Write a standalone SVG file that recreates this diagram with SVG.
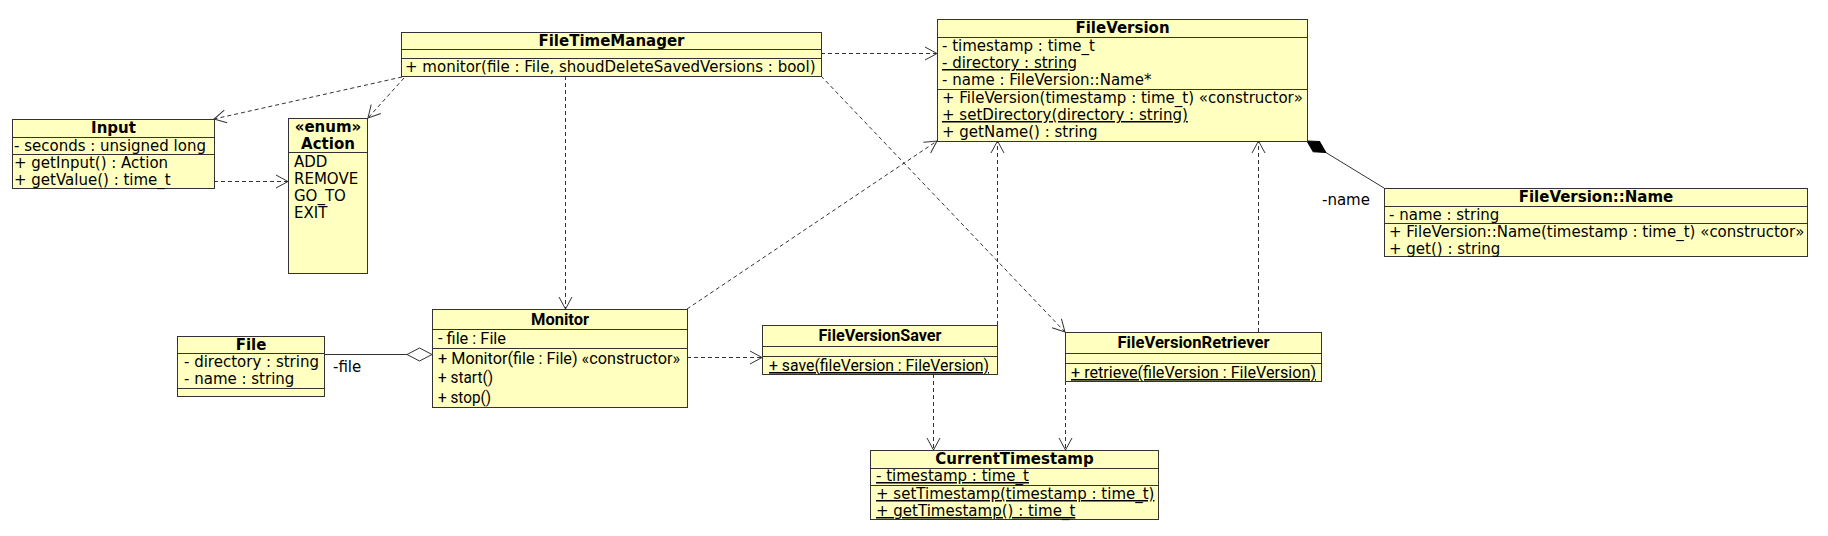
<svg xmlns="http://www.w3.org/2000/svg" width="1828" height="536" viewBox="0 0 1828 536">
<style>
.box{fill:#ffffc0;stroke:#333;stroke-width:1}
.sep{stroke:#333;stroke-width:1;fill:none}
.t{font-family:"DejaVu Sans",sans-serif;font-size:15px;fill:#000}
.n{font-family:Roboto,"Noto Sans",sans-serif;font-size:16px;fill:#000}
.b{font-weight:bold;text-anchor:middle}
.u{text-decoration:underline}
.dep{fill:none;stroke:#333;stroke-width:1;stroke-dasharray:4 3;marker-end:url(#open)}
.sol{fill:none;stroke:#333;stroke-width:1}
</style>
<defs>
<marker id="open" markerUnits="userSpaceOnUse" markerWidth="30" markerHeight="30" refX="0" refY="0" viewBox="-15 -15 30 30" orient="auto" overflow="visible">
<path d="M-12,-6.5 L0,0 L-12,6.5" fill="none" stroke="#333" stroke-width="1" stroke-dasharray="none"/>
</marker>
<marker id="comp" markerUnits="userSpaceOnUse" markerWidth="40" markerHeight="40" refX="0" refY="0" viewBox="-20 -20 40 40" orient="auto" overflow="visible">
<path d="M0,0 L11,-6 L22,0 L11,6 Z" fill="#000" stroke="#000" stroke-width="1"/>
</marker>
<marker id="aggr" markerUnits="userSpaceOnUse" markerWidth="40" markerHeight="40" refX="0" refY="0" viewBox="-30 -20 40 40" orient="auto" overflow="visible">
<path d="M0,0 L-12.5,-6.5 L-25,0 L-12.5,6.5 Z" fill="#fff" stroke="#333" stroke-width="1"/>
</marker>
</defs>
<rect width="1828" height="536" fill="#fff"/>

<g id="connectors">
<path class="dep" d="M402,77 L214,119"/>
<path class="dep" d="M404,78 L368,118"/>
<path class="dep" d="M214,181.5 L288,181.5"/>
<path class="dep" d="M821,53.5 L937,53.5"/>
<path class="dep" d="M565.5,76 L565.5,309"/>
<path class="dep" d="M821,76 L1065,332"/>
<path class="dep" d="M687,309 L937,141"/>
<path class="dep" d="M687,357.5 L762,357.5"/>
<path class="dep" d="M997.5,325 L997.5,141"/>
<path class="dep" d="M1258.5,332 L1258.5,141"/>
<path class="dep" d="M933.5,374 L933.5,450"/>
<path class="dep" d="M1065.5,381 L1065.5,450"/>
<path class="sol" d="M1307,141 L1384,188" marker-start="url(#comp)"/>
<path class="sol" d="M324,354.5 L432,354.5" marker-end="url(#aggr)"/>
<text class="t" x="1322" y="205">-name</text>
<text class="t" x="333" y="372">-file</text>
</g>

<g id="Input">
<rect class="box" x="12.5" y="119.5" width="202" height="69"/>
<path class="sep" d="M12.5,137.5 H214.5 M12.5,154.5 H214.5"/>
<text class="t b" x="113.5" y="133">Input</text>
<text class="t" x="14" y="151">- seconds : unsigned long</text>
<text class="t" x="14" y="168">+ getInput() : Action</text>
<text class="t" x="14" y="185">+ getValue() : time_t</text>
</g>

<g id="Action">
<rect class="box" x="288.5" y="118.5" width="79" height="155"/>
<path class="sep" d="M288.5,152.5 H367.5"/>
<text class="t b" x="328" y="132">«enum»</text>
<text class="t b" x="328" y="149">Action</text>
<text class="t" x="294" y="167">ADD</text>
<text class="t" x="294" y="184">REMOVE</text>
<text class="t" x="294" y="201">GO_TO</text>
<text class="t" x="294" y="218">EXIT</text>
</g>

<g id="FileTimeManager">
<rect class="box" x="401.5" y="32.5" width="420" height="44"/>
<path class="sep" d="M401.5,49.5 H821.5 M401.5,58.5 H821.5"/>
<text class="t b" x="611.5" y="46">FileTimeManager</text>
<text class="t" x="405" y="72">+ monitor(file : File, shoudDeleteSavedVersions : bool)</text>
</g>

<g id="FileVersion">
<rect class="box" x="937.5" y="19.5" width="370" height="122"/>
<path class="sep" d="M937.5,37.5 H1307.5 M937.5,89.5 H1307.5"/>
<text class="t b" x="1122.5" y="33">FileVersion</text>
<text class="t" x="942" y="51">- timestamp : time_t</text>
<text class="t u" x="942" y="68">- directory : string</text>
<text class="t" x="942" y="85">- name : FileVersion::Name*</text>
<text class="t" x="942" y="103">+ FileVersion(timestamp : time_t) «constructor»</text>
<text class="t u" x="942" y="120">+ setDirectory(directory : string)</text>
<text class="t" x="942" y="137">+ getName() : string</text>
</g>

<g id="FileVersionName">
<rect class="box" x="1384.5" y="188.5" width="423" height="68"/>
<path class="sep" d="M1384.5,206.5 H1807.5 M1384.5,223.5 H1807.5"/>
<text class="t b" x="1596" y="202">FileVersion::Name</text>
<text class="t" x="1389" y="220">- name : string</text>
<text class="t" x="1389" y="237">+ FileVersion::Name(timestamp : time_t) «constructor»</text>
<text class="t" x="1389" y="254">+ get() : string</text>
</g>

<g id="File">
<rect class="box" x="177.5" y="336.5" width="147" height="60"/>
<path class="sep" d="M177.5,353.5 H324.5 M177.5,388.5 H324.5"/>
<text class="t b" x="251" y="350">File</text>
<text class="t" x="184" y="367">- directory : string</text>
<text class="t" x="184" y="384">- name : string</text>
</g>

<g id="Monitor">
<rect class="box" x="432.5" y="309.5" width="255" height="98"/>
<path class="sep" d="M432.5,329.5 H687.5 M432.5,348.5 H687.5"/>
<text class="n b" x="560" y="325" textLength="58" lengthAdjust="spacingAndGlyphs">Monitor</text>
<text class="n" x="438" y="344" textLength="68" lengthAdjust="spacingAndGlyphs">- file : File</text>
<text class="n" x="438" y="364" textLength="242" lengthAdjust="spacingAndGlyphs">+ Monitor(file : File) «constructor»</text>
<text class="n" x="438" y="383" textLength="55" lengthAdjust="spacingAndGlyphs">+ start()</text>
<text class="n" x="438" y="403" textLength="53" lengthAdjust="spacingAndGlyphs">+ stop()</text>
</g>

<g id="FileVersionSaver">
<rect class="box" x="762.5" y="325.5" width="235" height="49"/>
<path class="sep" d="M762.5,346.5 H997.5 M762.5,356.5 H997.5"/>
<text class="n b" x="880" y="341" textLength="123" lengthAdjust="spacingAndGlyphs">FileVersionSaver</text>
<text class="n u" x="769" y="371" textLength="220" lengthAdjust="spacingAndGlyphs">+ save(fileVersion : FileVersion)</text>
</g>

<g id="FileVersionRetriever">
<rect class="box" x="1065.5" y="332.5" width="256" height="49"/>
<path class="sep" d="M1065.5,353.5 H1321.5 M1065.5,363.5 H1321.5"/>
<text class="n b" x="1193.5" y="348" textLength="152" lengthAdjust="spacingAndGlyphs">FileVersionRetriever</text>
<text class="n u" x="1071" y="378" textLength="245" lengthAdjust="spacingAndGlyphs">+ retrieve(fileVersion : FileVersion)</text>
</g>

<g id="CurrentTimestamp">
<rect class="box" x="870.5" y="450.5" width="288" height="69"/>
<path class="sep" d="M870.5,468.5 H1158.5 M870.5,485.5 H1158.5"/>
<text class="t b" x="1014.5" y="464">CurrentTimestamp</text>
<text class="t u" x="876" y="481">- timestamp : time_t</text>
<text class="t u" x="876" y="499">+ setTimestamp(timestamp : time_t)</text>
<text class="t u" x="876" y="516">+ getTimestamp() : time_t</text>
</g>
</svg>
